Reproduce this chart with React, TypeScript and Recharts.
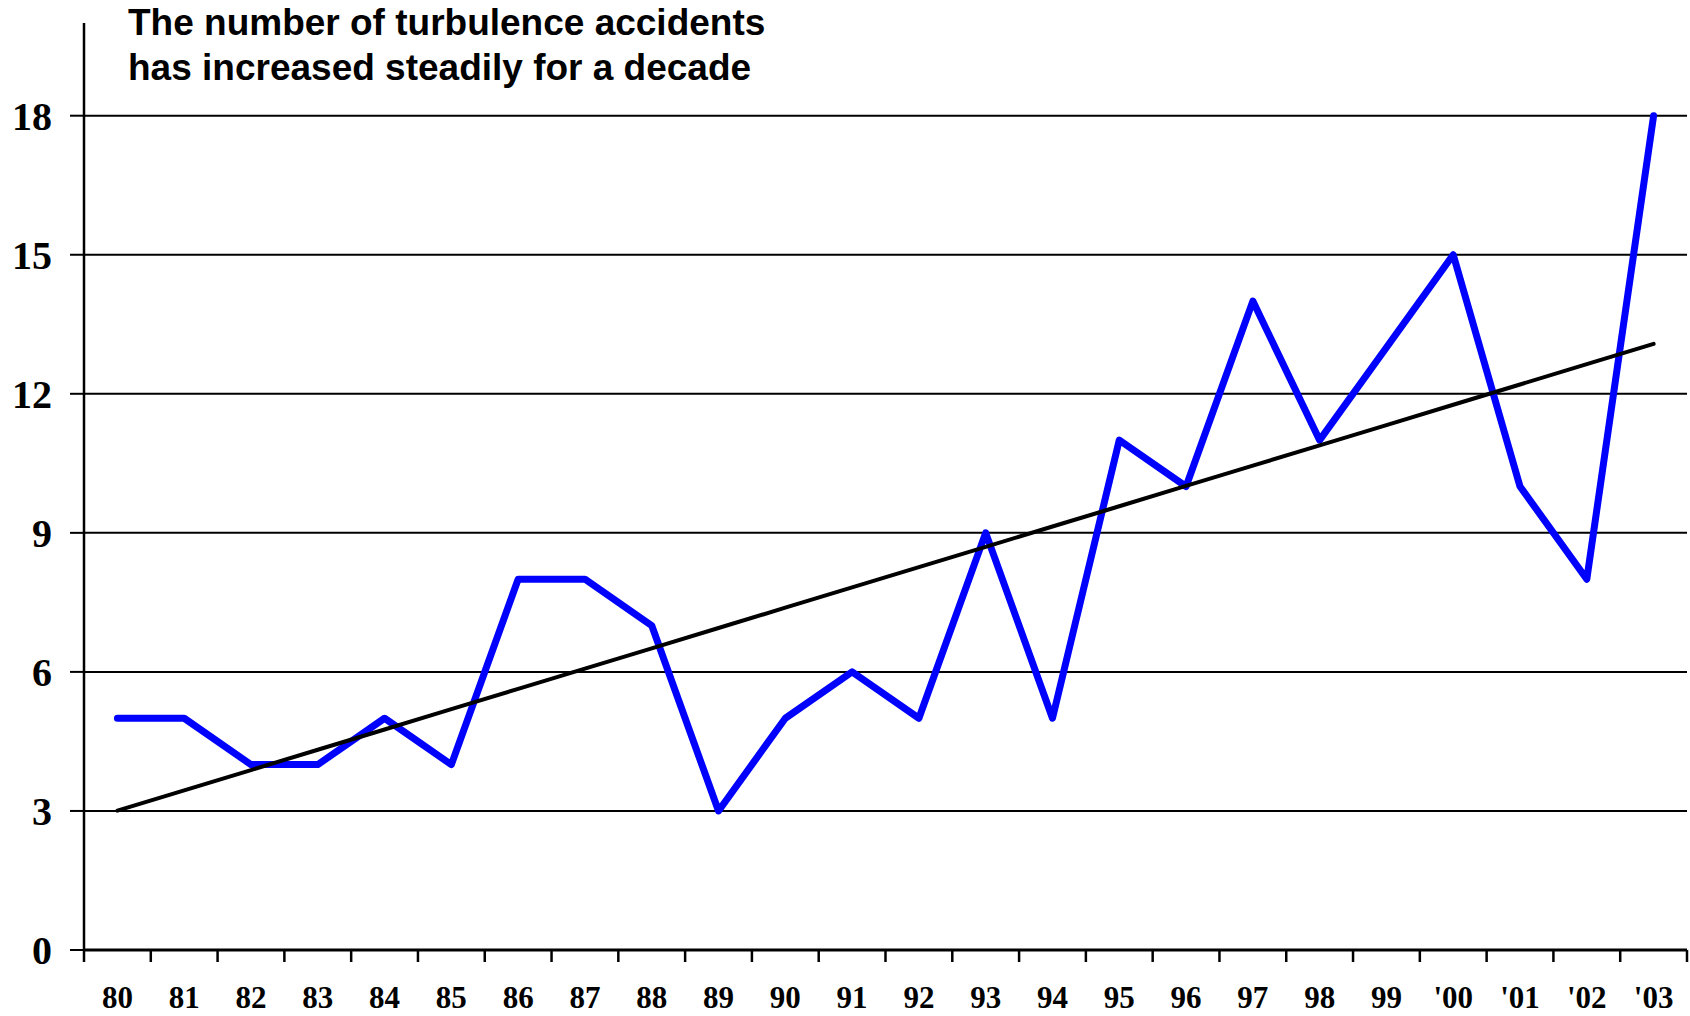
import React from "react";
import { LineChart, Line, XAxis, YAxis, ReferenceLine } from "recharts";

const years = [
  "80", "81", "82", "83", "84", "85", "86", "87", "88", "89", "90", "91",
  "92", "93", "94", "95", "96", "97", "98", "99", "'00", "'01", "'02", "'03",
];
const accidents = [5, 5, 4, 4, 5, 4, 8, 8, 7, 3, 5, 6, 5, 9, 5, 11, 10, 14, 11, 13, 15, 10, 8, 18];
const yTicks = [0, 3, 6, 9, 12, 15, 18];

// least-squares trend through the yearly counts
const n = accidents.length;
const meanX = (n - 1) / 2;
const meanY = accidents.reduce((a, b) => a + b, 0) / n;
let sxy = 0;
let sxx = 0;
accidents.forEach((v, i) => {
  sxy += (i - meanX) * (v - meanY);
  sxx += (i - meanX) * (i - meanX);
});
const slope = sxy / sxx;
const intercept = meanY - slope * meanX;

const data = accidents.map((v, i) => ({ i, v, trend: intercept + slope * i }));

// ticks at band edges (x.5) get a tick mark, integer ticks get the year label
const xTicks: number[] = [];
for (let k = 0; k <= n * 2; k++) xTicks.push(k / 2 - 0.5);

const serif = "'Liberation Serif', 'Times New Roman', serif";

function YearTick(props: any) {
  const { x, y, payload } = props;
  const v = payload.value as number;
  if (!Number.isInteger(v)) {
    return <line x1={x} x2={x} y1={y} y2={y + 12} stroke="#000" strokeWidth={2.5} />;
  }
  return (
    <text x={x} y={y + 58} textAnchor="middle" fontFamily={serif} fontWeight="bold" fontSize={31} fill="#000">
      {years[v]}
    </text>
  );
}

export default function App() {
  return (
    <div style={{ position: "absolute", left: 0, top: 0, width: 1690, height: 1016, background: "#fff" }}>
      <LineChart width={1690} height={1016} data={data} margin={{ top: 23, right: 3, bottom: 0, left: 0 }}>
        {yTicks.map((t) => (
          <ReferenceLine key={t} y={t} stroke="#000" strokeWidth={2} ifOverflow="visible" />
        ))}
        <XAxis
          dataKey="i"
          type="number"
          domain={[-0.5, n - 0.5]}
          ticks={xTicks}
          interval={0}
          tickLine={false}
          tickSize={0}
          tickMargin={0}
          tick={<YearTick />}
          axisLine={{ stroke: "#000", strokeWidth: 3 }}
          height={66}
          allowDataOverflow
        />
        <YAxis
          domain={[0, 20]}
          ticks={yTicks}
          interval={0}
          width={84}
          tickSize={14}
          tickMargin={18}
          tickLine={{ stroke: "#000", strokeWidth: 2 }}
          axisLine={{ stroke: "#000", strokeWidth: 2.5 }}
          tick={{ fontFamily: serif, fontWeight: "bold", fontSize: 40, fill: "#000" }}
          allowDataOverflow
        />
        <Line
          dataKey="v"
          stroke="#0000FF"
          strokeWidth={7}
          strokeLinejoin="round"
          strokeLinecap="round"
          dot={false}
          activeDot={false}
          isAnimationActive={false}
        />
        <Line
          dataKey="trend"
          stroke="#000"
          strokeWidth={4}
          strokeLinecap="round"
          dot={false}
          activeDot={false}
          isAnimationActive={false}
        />
      </LineChart>
      <div
        style={{
          position: "absolute",
          left: 128,
          top: 0,
          fontFamily: "'Liberation Sans', Arial, sans-serif",
          fontWeight: "bold",
          fontSize: 37,
          lineHeight: "45px",
          color: "#000",
          whiteSpace: "nowrap",
        }}
      >
        The number of turbulence accidents
        <br />
        has increased steadily for a decade
      </div>
    </div>
  );
}
